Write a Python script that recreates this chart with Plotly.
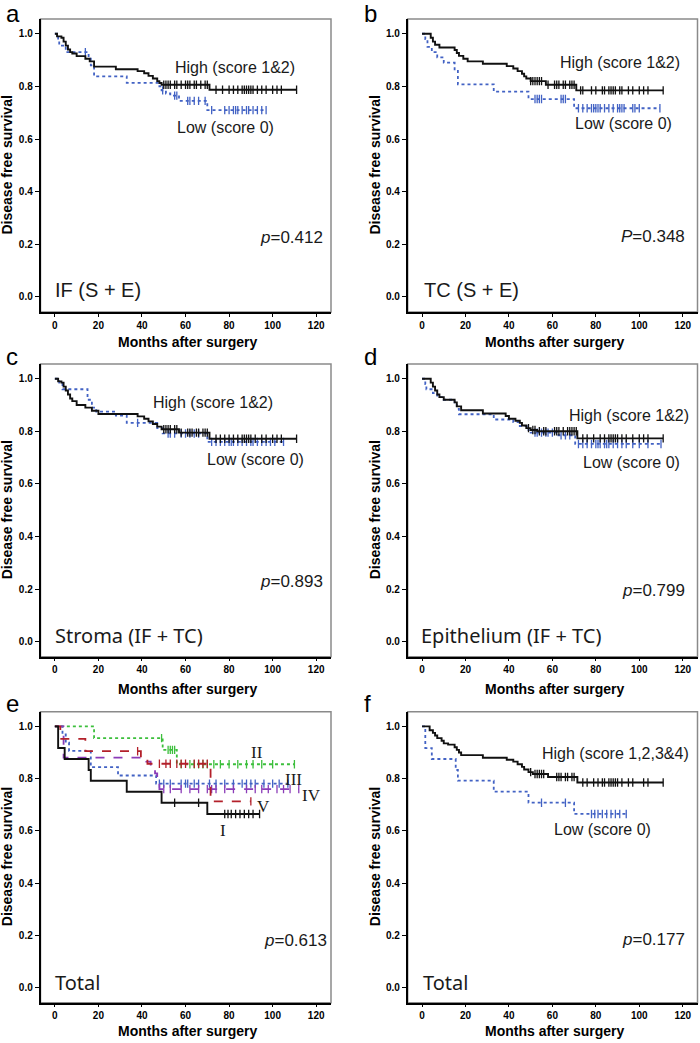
import plotly.graph_objects as go

W, H = 700, 1043

# ---------------- data ----------------
# panel a : IF (S + E)
a_high_t = [1, 3, 4, 5, 6, 7, 8, 10, 14, 16, 18, 28, 38, 41, 43, 45, 47, 48, 49, 71]
a_high_s = [0.99, 0.985, 0.97, 0.955, 0.94, 0.93, 0.925, 0.915, 0.905, 0.895, 0.875, 0.865, 0.858, 0.85, 0.84, 0.83, 0.82, 0.813, 0.806, 0.787]
a_high_end = 111
a_high_c = [50, 51, 52, 53, 55, 56, 58, 60, 61, 62, 64, 65, 67, 69, 70, 74, 77, 80, 82, 84, 86, 87, 88, 89, 90, 91, 93, 95, 97, 100, 102, 104, 111]
a_low_t = [1.5, 2, 5, 15.5, 16.5, 18, 33, 48, 49, 51, 53, 57, 70]
a_low_s = [0.975, 0.955, 0.93, 0.905, 0.88, 0.838, 0.813, 0.80, 0.785, 0.773, 0.765, 0.745, 0.71]
a_low_end = 97
a_low_c = [14, 49.5, 55, 56, 61, 62, 64, 66, 69, 72, 78, 80, 82, 83, 84, 86, 88, 89, 91, 93, 95, 97]

# panel b : TC (S + E)
b_high_t = [4, 5, 6, 8, 15, 16, 17, 19, 21, 28, 39, 42, 44, 46, 47, 48, 50, 57, 71]
b_high_s = [0.985, 0.97, 0.958, 0.948, 0.938, 0.927, 0.916, 0.905, 0.895, 0.886, 0.877, 0.868, 0.858, 0.848, 0.838, 0.83, 0.82, 0.806, 0.785]
b_high_end = 111
b_high_c = [50, 51, 52, 53, 54, 55, 58, 61, 62, 63, 65, 66, 68, 69, 70, 73, 74, 78, 80, 83, 84, 86, 87, 88, 89, 91, 92, 95, 97, 100, 102, 104, 111]
b_low_t = [1.5, 2.5, 4.5, 7, 10, 15, 16.5, 33, 49, 70]
b_low_s = [0.98, 0.95, 0.93, 0.91, 0.89, 0.865, 0.808, 0.78, 0.752, 0.717]
b_low_end = 109.5
b_low_c = [52, 53, 54, 55, 64, 65, 66, 72, 74, 76, 78, 79, 80, 81, 82, 84, 86, 88, 90, 91, 92, 93, 97, 98, 100, 109.5]

# panel c : Stroma (IF + TC)
c_high_t = [1.5, 3, 4, 5, 6, 7, 8, 10, 14, 17, 20, 38, 41, 43, 45, 47, 49, 57, 71]
c_high_s = [0.99, 0.985, 0.97, 0.955, 0.94, 0.925, 0.915, 0.90, 0.89, 0.878, 0.866, 0.857, 0.848, 0.838, 0.828, 0.818, 0.808, 0.795, 0.772]
c_high_end = 111
c_high_c = [50, 51, 52, 53, 55, 56, 58, 61, 62, 63, 65, 66, 68, 69, 70, 74, 76, 78, 80, 82, 84, 86, 87, 88, 89, 90, 92, 95, 97, 100, 102, 104, 111]
c_low_t = [2, 3.5, 15, 17, 19, 28, 33, 47, 49.5, 70]
c_low_s = [0.985, 0.96, 0.92, 0.89, 0.875, 0.86, 0.832, 0.812, 0.792, 0.76]
c_low_end = 105
c_low_c = [38, 52, 53, 55, 58, 60, 62, 64, 66, 72, 74, 76, 78, 80, 81, 82, 84, 86, 88, 90, 91, 93, 95, 97, 99, 101, 105]

# panel d : Epithelium (IF + TC)
d_high_t = [4, 5, 6, 7, 8, 10, 15, 16, 18, 28, 38.5, 40, 43, 45, 46, 48, 50, 53, 71.5]
d_high_s = [0.985, 0.97, 0.955, 0.94, 0.93, 0.92, 0.91, 0.895, 0.88, 0.868, 0.858, 0.848, 0.84, 0.832, 0.822, 0.812, 0.805, 0.80, 0.773]
d_high_end = 111
d_high_c = [49, 51, 52, 54, 56, 57, 61, 62, 63, 65, 67, 68, 69, 70, 71, 74, 76, 79, 82, 84, 86, 87, 88, 89, 90, 92, 94, 97, 100, 102, 104, 111]
d_low_t = [1.5, 2, 5, 7, 10, 15, 16, 17, 33, 42, 45, 49, 50, 62, 70.5]
d_low_s = [0.98, 0.96, 0.945, 0.93, 0.92, 0.905, 0.885, 0.865, 0.845, 0.835, 0.82, 0.805, 0.795, 0.785, 0.752]
d_low_end = 110
d_low_c = [52, 53, 55, 57, 58, 60, 64, 66, 68, 72, 74, 76, 78, 80, 81, 82, 84, 85, 86, 88, 90, 92, 94, 97, 100, 104, 110]

# panel e : Total, stages I..V
e_I_t = [1.5, 4.5, 15.5, 16.5, 33, 49, 70]
e_I_s = [0.917, 0.875, 0.833, 0.792, 0.75, 0.708, 0.665]
e_I_end = 94
e_I_c = [55, 66, 78, 79.5, 81, 83, 85, 87, 89, 91, 94]
e_II_t = [18, 49.5, 56]
e_II_s = [0.955, 0.91, 0.855]
e_II_end = 110
e_II_c = [49, 52, 53, 54, 55, 58, 62, 64, 66, 68, 70, 73, 76, 80, 84, 88, 91, 95, 100, 110]
e_III_t = [3.5, 5, 6.5, 16.5, 29, 46.5]
e_III_s = [0.969, 0.938, 0.906, 0.844, 0.812, 0.781]
e_III_end = 107
e_III_c = [48, 50, 53, 58, 60, 61, 64, 66, 71, 74, 78, 82, 86, 88, 90, 92, 96, 100, 103, 107]
e_IV_t = [4, 42, 44, 46, 47, 48]
e_IV_s = [0.88, 0.865, 0.85, 0.82, 0.79, 0.76]
e_IV_end = 112
e_IV_c = [50, 53, 58, 62, 66, 70, 72, 74, 78, 82, 88, 92, 95, 98, 102, 105, 108, 112]
e_V_t = [2.5, 14, 39.5, 42.5, 71.5]
e_V_s = [0.952, 0.905, 0.877, 0.857, 0.713]
e_V_end = 90
e_V_c = [38, 48, 51, 53, 56, 58, 60, 64, 66, 68, 70, 90]

# panel f : Total, high vs low
f_high_t = [3.5, 5, 6, 7, 9, 10, 12, 15, 16, 17, 18, 28, 39, 42, 44, 46, 47, 49, 51, 58, 71.5]
f_high_s = [0.985, 0.975, 0.965, 0.955, 0.945, 0.935, 0.93, 0.92, 0.91, 0.90, 0.89, 0.88, 0.872, 0.865, 0.855, 0.845, 0.835, 0.825, 0.818, 0.806, 0.785]
f_high_end = 111
f_high_c = [50, 52, 53, 54, 55, 56, 62, 63, 64, 66, 67, 69, 70, 74, 76, 79, 81, 83, 84, 86, 87, 88, 89, 90, 92, 95, 97, 102, 104, 111]
f_low_t = [1.5, 4.5, 15.5, 16.5, 33, 49, 70]
f_low_s = [0.917, 0.875, 0.833, 0.792, 0.75, 0.708, 0.665]
f_low_end = 94
f_low_c = [55, 66, 78, 79.5, 81, 83, 85, 87, 89, 91, 94]

x_ticks = [0, 20, 40, 60, 80, 100, 120]
y_ticks = [0.0, 0.2, 0.4, 0.6, 0.8, 1.0]

# ---------------- styling ----------------
BLACK = "#111111"
BLUE = "#4262c4"
GREEN = "#3cbf3c"
RED = "#b3202a"
PURPLE = "#8b3cb8"
SANS = "Arial, Liberation Sans, sans-serif"
GOTHIC = "Noto Sans, Open Sans, sans-serif"
SERIF = "Times New Roman, Liberation Serif, serif"

cols = [(40.5, 331.0), (407.7, 697.5)]
rows = [(19.0, 312.0), (364.0, 656.7), (711.7, 1002.7)]
XR = [-6.6, 126.8]
YR = [-0.057, 1.056]

fig = go.Figure()


def step_val(t_ev, s_ev, t):
    v = 1.0
    for ti, si in zip(t_ev, s_ev):
        if ti <= t:
            v = si
    return v


def add_curve(k, t_ev, s_ev, t_end, cens, color, dash, width):
    xs = [0] + list(t_ev) + [t_end]
    ys = [1.0] + list(s_ev) + [s_ev[-1]]
    ax = "" if k == 1 else str(k)
    fig.add_trace(go.Scatter(
        x=xs, y=ys, mode="lines", xaxis="x" + ax, yaxis="y" + ax,
        line=dict(shape="hv", color=color, dash=dash, width=width),
        showlegend=False, hoverinfo="skip"))
    cy = [step_val(t_ev, s_ev, c) for c in cens]
    fig.add_trace(go.Scatter(
        x=cens, y=cy, mode="markers", xaxis="x" + ax, yaxis="y" + ax,
        marker=dict(symbol="line-ns-open", size=6, color=color,
                    line=dict(color=color, width=1.3)),
        showlegend=False, hoverinfo="skip"))


panels = [
    # k, col, row, letter, curves, texts
    (1, 0, 0, "a",
     [(a_low_t, a_low_s, a_low_end, a_low_c, BLUE, "dot", 1.8),
      (a_high_t, a_high_s, a_high_end, a_high_c, BLACK, "solid", 1.9)],
     [("High (score 1&2)", 54.1, 0.870, "left", SANS, 16),
      ("Low (score 0)", 55.2, 0.644, "left", SANS, 16),
      ("<i>p</i>=0.412", 124.1, 0.226, "right", SANS, 17),
      ("IF (S + E)", -0.8, 0.028, "left", SANS, 20)]),
    (2, 1, 0, "b",
     [(b_low_t, b_low_s, b_low_end, b_low_c, BLUE, "dot", 1.8),
      (b_high_t, b_high_s, b_high_end, b_high_c, BLACK, "solid", 1.9)],
     [("High (score 1&2)", 62.7, 0.889, "left", SANS, 16),
      ("Low (score 0)", 69.3, 0.658, "left", SANS, 16),
      ("<i>P</i>=0.348", 121.9, 0.231, "right", SANS, 17),
      ("TC (S + E)", 0.0, 0.028, "left", SANS, 20)]),
    (3, 0, 1, "c",
     [(c_low_t, c_low_s, c_low_end, c_low_c, BLUE, "dot", 1.8),
      (c_high_t, c_high_s, c_high_end, c_high_c, BLACK, "solid", 1.9)],
     [("High (score 1&2)", 44.0, 0.911, "left", SANS, 16),
      ("Low (score 0)", 69.0, 0.691, "left", SANS, 16),
      ("<i>p</i>=0.893", 124.1, 0.228, "right", SANS, 17),
      ("Stroma (IF + TC)", -0.8, 0.022, "left", GOTHIC, 20)]),
    (4, 1, 1, "d",
     [(d_low_t, d_low_s, d_low_end, d_low_c, BLUE, "dot", 1.8),
      (d_high_t, d_high_s, d_high_end, d_high_c, BLACK, "solid", 1.9)],
     [("High (score 1&2)", 66.8, 0.861, "left", SANS, 16),
      ("Low (score 0)", 73.4, 0.680, "left", SANS, 16),
      ("<i>p</i>=0.799", 121.9, 0.196, "right", SANS, 17),
      ("Epithelium (IF + TC)", -1.2, 0.022, "left", GOTHIC, 20)]),
    (5, 0, 2, "e",
     [(e_II_t, e_II_s, e_II_end, e_II_c, GREEN, "dot", 1.8),
      (e_III_t, e_III_s, e_III_end, e_III_c, BLUE, "dot", 1.8),
      (e_IV_t, e_IV_s, e_IV_end, e_IV_c, PURPLE, "dash", 1.8),
      (e_V_t, e_V_s, e_V_end, e_V_c, RED, "dash", 1.8),
      (e_I_t, e_I_s, e_I_end, e_I_c, BLACK, "solid", 1.9)],
     [("II", 92.7, 0.900, "center", SERIF, 17),
      ("III", 109.4, 0.795, "center", SERIF, 17),
      ("IV", 118.0, 0.735, "center", SERIF, 17),
      ("V", 95.8, 0.693, "center", SERIF, 17),
      ("I", 77.4, 0.600, "center", SERIF, 17),
      ("<i>p</i>=0.613", 125.7, 0.181, "right", SANS, 17),
      ("Total", -0.8, 0.022, "left", GOTHIC, 20)]),
    (6, 1, 2, "f",
     [(f_low_t, f_low_s, f_low_end, f_low_c, BLUE, "dot", 1.8),
      (f_high_t, f_high_s, f_high_end, f_high_c, BLACK, "solid", 1.9)],
     [("High (score 1,2,3&4)", 54.3, 0.896, "left", SANS, 16),
      ("Low (score 0)", 60.0, 0.605, "left", SANS, 16),
      ("<i>p</i>=0.177", 121.9, 0.184, "right", SANS, 17),
      ("Total", -0.5, 0.022, "left", GOTHIC, 20)]),
]

annotations = []
shapes = []
layout_axes = {}

letter_y = [14, 356, 703]
xtitle_y = [342, 689, 1031]
ytitle_x = [7, 375]
letter_x = [4, 362]

for k, c, r, letter, curves, texts in panels:
    ax = "" if k == 1 else str(k)
    x0, x1 = cols[c]
    y0, y1 = rows[r]
    layout_axes["xaxis" + ax] = dict(
        domain=[x0 / W, x1 / W], range=XR, anchor="y" + ax,
        tickvals=x_ticks, ticktext=[str(v) for v in x_ticks],
        ticks="outside", ticklen=3, tickwidth=1, tickcolor="black",
        showline=True, linecolor="black", linewidth=1.5, mirror=False,
        showgrid=False, zeroline=False,
        tickfont=dict(family=SANS, size=10, color="black", weight="bold"))
    layout_axes["yaxis" + ax] = dict(
        domain=[1 - y1 / H, 1 - y0 / H], range=YR, anchor="x" + ax,
        tickvals=y_ticks, ticktext=["%.1f" % v for v in y_ticks],
        ticks="outside", ticklen=4, tickwidth=1, tickcolor="black",
        showline=True, linecolor="black", linewidth=1.5, mirror=False,
        showgrid=False, zeroline=False,
        tickfont=dict(family=SANS, size=10, color="black", weight="bold"))
    shapes.append(dict(type="rect", xref="x" + ax + " domain", yref="y" + ax + " domain",
                       x0=0, x1=1, y0=0, y1=1, line=dict(color="#8a8a8a", width=1.5),
                       layer="below"))
    for cv in curves:
        add_curve(k, *cv)
    for txt, tx, ty, anchor, fam, sz in texts:
        annotations.append(dict(text=txt, x=tx, y=ty, xref="x" + ax, yref="y" + ax,
                                xanchor=anchor, yanchor="middle", showarrow=False,
                                font=dict(family=fam, size=sz, color="#1a1a1a")))
    # panel letter
    annotations.append(dict(text=letter, x=letter_x[c] / W, y=1 - letter_y[r] / H,
                            xref="paper", yref="paper", xanchor="left", yanchor="middle",
                            showarrow=False, font=dict(family=SANS, size=24, color="black")))
    # axis titles
    annotations.append(dict(text="Months after surgery", x=((x0 + x1) / 2 + 2) / W,
                            y=1 - xtitle_y[r] / H, xref="paper", yref="paper",
                            xanchor="center", yanchor="middle", showarrow=False,
                            font=dict(family=SANS, size=14, color="black", weight="bold")))
    annotations.append(dict(text="Disease free survival", x=ytitle_x[c] / W,
                            y=1 - ((y0 + y1) / 2) / H, xref="paper", yref="paper",
                            xanchor="center", yanchor="middle", textangle=-90,
                            showarrow=False,
                            font=dict(family=SANS, size=14, color="black", weight="bold")))

fig.update_layout(
    width=W, height=H, margin=dict(l=0, r=0, t=0, b=0),
    paper_bgcolor="white", plot_bgcolor="white",
    annotations=annotations, shapes=shapes, showlegend=False,
    **layout_axes)

fig.write_html("out.html", config={"displayModeBar": False},
               post_script="document.body.style.margin='0';document.body.style.padding='0';document.body.style.overflow='hidden';")
